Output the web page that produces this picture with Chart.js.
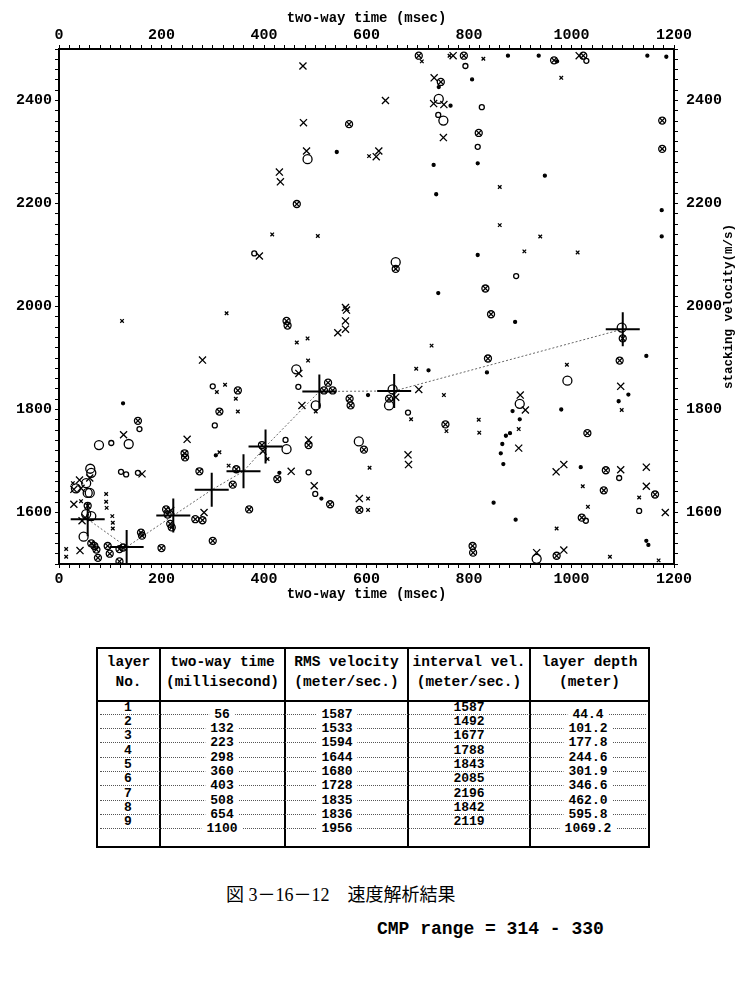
<!DOCTYPE html>
<html>
<head>
<meta charset="utf-8">
<script src="https://cdn.jsdelivr.net/npm/chart.js@4.4.1/dist/chart.umd.min.js"></script>
<style>
body { margin: 0; background: #fff; width: 745px; height: 981px; position: relative; overflow: hidden; font-family: 'Liberation Mono', monospace; color: #000; }
#plot { position: absolute; left: 0; top: 0; }
.line { position: absolute; background: #000; }
.dots { position: absolute; height: 0; border-top: 1px dotted #555; }
.cell { position: absolute; transform: translate(-50%, -50%); font-weight: bold; font-size: 13px; line-height: 1; white-space: nowrap; }
.num { background: #fff; padding: 0 5px; }
.head { font-size: 14.5px; }
.cap { position: absolute; white-space: nowrap; }
</style>
</head>
<body>
<canvas id="plot" width="745" height="615"></canvas>
<div id="table"></div>
<div class="cap" style="left:226px;top:880px;font-family:'Liberation Serif','Noto Sans CJK JP',serif;font-size:18px;">図 3－16－12　速度解析結果</div>
<div class="cap" style="left:377px;top:919px;font-family:'Liberation Mono',monospace;font-weight:bold;font-size:18px;">CMP range = 314 - 330</div>
<script>
// table values (picked velocities)
const layerNo = [1, 2, 3, 4, 5, 6, 7, 8, 9];
const twoWayTime = [56, 132, 223, 298, 360, 403, 508, 654, 1100];
const rmsVelocity = [1587, 1533, 1594, 1644, 1680, 1728, 1835, 1836, 1956];
const intervalVelocity = [1587, 1492, 1677, 1788, 1843, 2085, 2196, 1842, 2119];
const layerDepth = ['44.4', '101.2', '177.8', '244.6', '301.9', '346.6', '462.0', '595.8', '1069.2'];

// velocity analysis picks, [time, velocity]
const bigCross = [[476,2467],[477,2357],[483,2302],[430,2261],[432,2242],[391,2098],[559,1998],[637,2400],[731,2394],[751,2392],[750,2328],[619,2291],[624,2302],[732,2444],[280,1896],[561,1993],[559,1972],[559,1956],[544,1949],[468,1870],[474,1808],[126,1751],[250,1742],[398,1719],[453,1680],[162,1675],[487,1741],[498,1652],[586,1627],[40,1663],[60,1667],[29,1645],[43,1647],[29,1616],[51,1590],[45,1584],[41,1526],[218,1604],[702,1839],[681,1712],[682,1693],[900,1828],[910,1799],[897,1725],[970,1679],[985,1693],[1096,1845],[1096,1683],[1146,1688],[1146,1651],[1183,1600],[932,1522],[985,1527],[769,2487],[1015,2487],[283,1600],[657,1824]];
const smallCross = [[762,2487],[828,2481],[980,2444],[605,2292],[416,2140],[505,2137],[860,2232],[860,2158],[939,2136],[908,2107],[1012,2105],[327,1987],[123,1972],[464,1930],[485,1938],[486,1895],[308,1834],[324,1848],[345,1821],[349,1796],[313,1717],[501,1796],[407,1704],[331,1691],[606,1687],[603,1627],[603,1605],[27,1657],[43,1622],[14,1529],[14,1514],[92,1636],[92,1621],[93,1609],[104,1593],[105,1580],[105,1569],[687,1781],[727,1924],[697,1879],[819,1780],[820,1755],[897,1762],[991,1887],[1098,1799],[1022,1651],[1032,1611],[1132,1629],[971,1569],[1075,1514],[1170,1507],[751,1828],[708,2476],[756,1758]];
const bigCircle = [[485,2286],[741,2403],[750,2361],[463,1878],[501,1808],[78,1731],[136,1733],[444,1723],[53,1657],[61,1685],[63,1677],[56,1638],[60,1638],[53,1597],[63,1593],[48,1553],[899,1811],[992,1856],[932,1510],[1098,1959],[33,1647],[657,2086],[585,1738],[651,1839],[644,1808]];
const smallCircle = [[381,2103],[825,2387],[740,2372],[817,2310],[892,2059],[300,1845],[304,1769],[102,1735],[121,1679],[131,1674],[154,1677],[157,1762],[442,1741],[487,1678],[500,1636],[467,1844],[681,1794],[1029,2477],[793,2467],[1132,1603],[1093,1667],[1028,1584]];
const dotPoints = [[542,2300],[876,2487],[936,2487],[972,2476],[1148,2487],[806,2441],[741,2426],[764,2390],[817,2278],[731,2275],[948,2254],[736,2218],[817,2100],[740,2026],[1176,2187],[1176,2136],[125,1812],[306,1711],[430,1677],[512,1627],[603,1828],[890,1970],[835,1872],[980,1800],[1092,1816],[1111,1829],[1146,1904],[880,1754],[872,1749],[865,1733],[862,1715],[867,1694],[899,1781],[885,1797],[1018,1688],[891,1586],[848,1619],[1150,1537],[1146,1545],[1185,2485],[721,1876]];
const clusterPoints = [[566,2354],[464,2199],[702,2487],[790,2487],[1023,2487],[966,2478],[745,2436],[819,2337],[1177,2361],[1177,2306],[657,2073],[832,2035],[446,1963],[444,1972],[349,1837],[517,1837],[534,1837],[525,1852],[567,1821],[569,1808],[154,1778],[313,1796],[245,1715],[246,1707],[274,1680],[346,1684],[339,1654],[396,1731],[426,1665],[487,1731],[529,1616],[595,1722],[586,1605],[56,1613],[63,1540],[69,1535],[73,1528],[76,1512],[95,1535],[99,1520],[118,1529],[125,1532],[118,1505],[160,1561],[162,1555],[200,1531],[209,1606],[212,1596],[217,1578],[220,1571],[266,1587],[280,1585],[300,1545],[371,1606],[843,1985],[837,1899],[754,1771],[1031,1754],[1067,1682],[1063,1643],[1020,1590],[1094,1895],[1163,1635],[1100,1938],[808,1522],[807,1535],[971,1516],[644,1821]];

const xMin = 0, xMax = 1200, yMin = 1500, yMax = 2500;

function pts(arr) {
    return arr.map(p => ({ x: p[0], y: p[1] }));
}

function marks(data, style, radius, fill) {
    return {
        data: pts(data),
        pointStyle: style,
        pointRadius: radius,
        pointBorderColor: '#000',
        pointBackgroundColor: fill ? '#000' : 'rgba(0,0,0,0)',
        pointBorderWidth: 1.3,
        showLine: false
    };
}

const tickFont = { family: 'Liberation Mono', size: 15, weight: 'bold' };
const titleFont = { family: 'Liberation Mono', size: 14, weight: 'bold' };

function timeAxis(pos, height, title) {
    return {
        type: 'linear', position: pos, min: xMin, max: xMax,
        ticks: {
            stepSize: 20, autoSkip: false, maxRotation: 0, color: '#000', font: tickFont,
            padding: pos === 'top' ? 1 : 2,
            callback: v => Math.round(v) % 200 === 0 ? String(Math.round(v)) : ''
        },
        grid: { drawOnChartArea: false, drawTicks: true, tickLength: 4, color: '#000' },
        border: { display: true, color: '#000', width: 2 },
        title: { display: true, text: title, color: '#000', font: titleFont, padding: pos === 'top' ? { top: 10, bottom: 0 } : { top: 0, bottom: 12 } },
        afterFit: s => { s.height = height; }
    };
}

function velAxis(pos, width) {
    return {
        type: 'linear', position: pos, min: yMin, max: yMax,
        ticks: {
            stepSize: 20, autoSkip: false, color: '#000', font: tickFont,
            padding: pos === 'left' ? 3 : 8,
            callback: v => Math.round(v) % 200 === 0 ? String(Math.round(v)) : ''
        },
        grid: { drawOnChartArea: false, drawTicks: true, tickLength: 4, color: '#000' },
        border: { display: true, color: '#000', width: 2 },
        afterFit: s => { s.width = width; }
    };
}

// right-hand title reads bottom to top
const sideTitle = {
    id: 'sideTitle',
    afterDraw(chart) {
        const ctx = chart.ctx;
        ctx.save();
        ctx.translate(729, (chart.chartArea.top + chart.chartArea.bottom) / 2);
        ctx.rotate(-Math.PI / 2);
        ctx.font = 'bold 12.5px "Liberation Mono"';
        ctx.fillStyle = '#000';
        ctx.textAlign = 'center';
        ctx.textBaseline = 'middle';
        ctx.fillText('stacking velocity(m/s)', 0, 0);
        ctx.restore();
    }
};

new Chart(document.getElementById('plot'), {
    type: 'scatter',
    data: {
        datasets: [
            marks(clusterPoints, 'circle', 3.5, false),
            marks(clusterPoints, 'crossRot', 4, false),
            marks(bigCross, 'crossRot', 5, false),
            marks(smallCross, 'crossRot', 2.5, false),
            marks(bigCircle, 'circle', 4.5, false),
            marks(smallCircle, 'circle', 2.5, false),
            marks(dotPoints, 'circle', 1.5, true),
            {
                data: twoWayTime.map((t, i) => ({ x: t, y: rmsVelocity[i] })),
                showLine: true,
                borderColor: '#666',
                borderWidth: 1,
                borderDash: [2, 2],
                pointStyle: 'cross',
                pointRadius: 17,
                pointBorderColor: '#000',
                pointBorderWidth: 2,
                fill: false,
                tension: 0
            }
        ]
    },
    options: {
        responsive: false,
        animation: false,
        events: [],
        layout: { padding: 0 },
        plugins: { legend: { display: false }, tooltip: { enabled: false } },
        scales: {
            x: timeAxis('bottom', 51, 'two-way time (msec)'),
            x2: timeAxis('top', 49, 'two-way time (msec)'),
            y: velAxis('left', 59),
            y2: velAxis('right', 71)
        }
    },
    plugins: [sideTitle]
});

// result table
const table = document.getElementById('table');
const colEdges = [97, 160, 285, 408, 530, 649];
const headers = [['layer', 'No.'], ['two-way time', '(millisecond)'], ['RMS velocity', '(meter/sec.)'], ['interval vel.', '(meter/sec.)'], ['layer depth', '(meter)']];
const tableTop = 647, tableBottom = 848, headLine = 700;
const rowPitch = 14.35;

function add(cls, style, text) {
    const d = document.createElement('div');
    d.className = cls;
    d.style.cssText = style;
    if (text !== undefined) d.textContent = text;
    table.appendChild(d);
    return d;
}

// frame
add('line', `left:${colEdges[0]}px;top:${tableTop}px;width:${colEdges[5] - colEdges[0]}px;height:2px;`);
add('line', `left:${colEdges[0]}px;top:${tableBottom - 2}px;width:${colEdges[5] - colEdges[0]}px;height:2px;`);
add('line', `left:${colEdges[0]}px;top:${headLine}px;width:${colEdges[5] - colEdges[0]}px;height:2px;`);
colEdges.forEach(x => add('line', `left:${x - 1}px;top:${tableTop}px;width:2px;height:${tableBottom - tableTop}px;`));

headers.forEach((h, c) => {
    const cx = (colEdges[c] + colEdges[c + 1]) / 2;
    add('cell head', `left:${cx}px;top:662px;`, h[0]);
    add('cell head', `left:${cx}px;top:682px;`, h[1]);
});

layerNo.forEach((n, i) => {
    const lineY = 713.5 + i * rowPitch;
    const labelY = 706.5 + i * rowPitch;
    add('dots', `left:${colEdges[0] + 3}px;top:${lineY}px;width:${colEdges[5] - colEdges[0] - 6}px;`);
    add('cell', `left:128px;top:${labelY}px;`, String(n));
    add('cell num', `left:222px;top:${lineY}px;`, String(twoWayTime[i]));
    add('cell num', `left:337px;top:${lineY}px;`, String(rmsVelocity[i]));
    add('cell', `left:469px;top:${labelY}px;`, String(intervalVelocity[i]));
    add('cell num', `left:588px;top:${lineY}px;`, layerDepth[i]);
});
</script>
</body>
</html>
